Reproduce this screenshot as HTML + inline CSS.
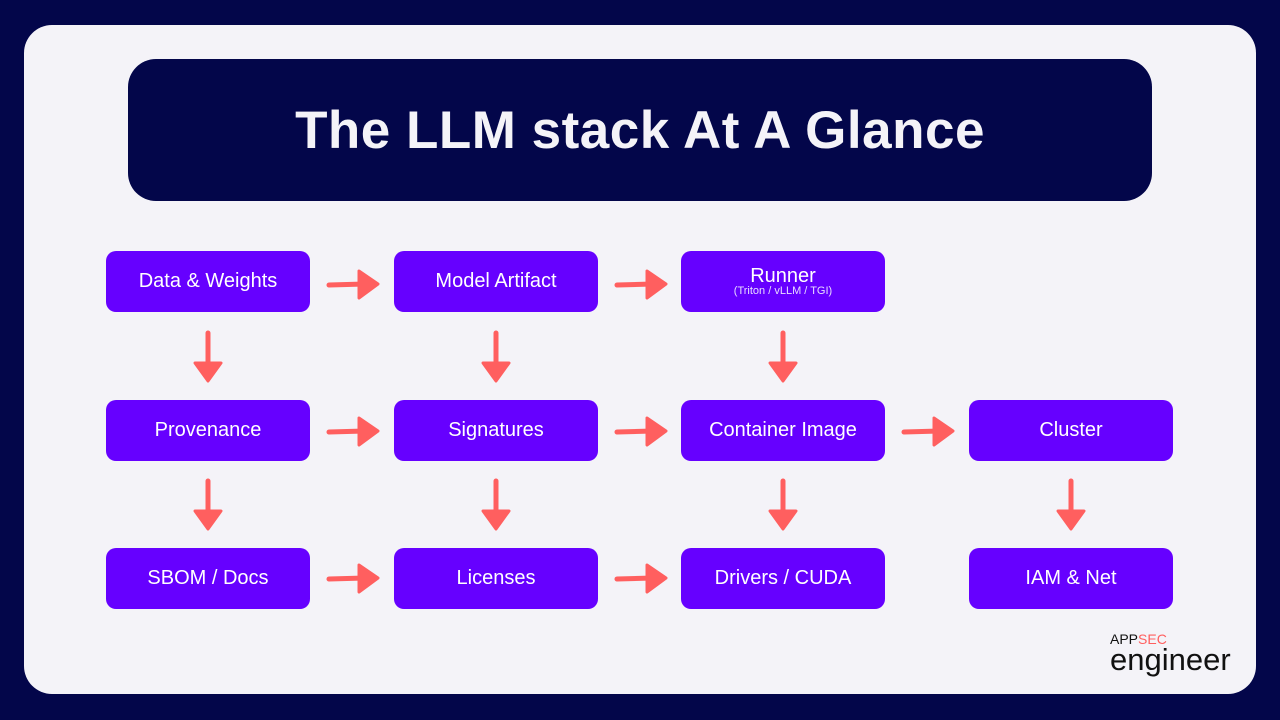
<!DOCTYPE html>
<html><head><meta charset="utf-8"><style>
body{margin:0;width:1280px;height:720px;background:#03064a;position:relative;overflow:hidden;font-family:"Liberation Sans",sans-serif}
.card{position:absolute;left:24px;top:25px;width:1232px;height:669px;background:#f4f3f8;border-radius:28px}
.title{position:absolute;left:128px;top:59px;width:1024px;height:142px;background:#03064a;border-radius:28px;color:#f4f3f8;font-weight:bold;font-size:53px;display:flex;align-items:center;justify-content:center;letter-spacing:0.5px}
.b{position:absolute;width:204px;height:61px;background:#6600ff;border-radius:10px;color:#fff;font-size:20px;display:flex;flex-direction:column;align-items:center;justify-content:center}
.b small{font-size:11px;line-height:11px;color:#e8dcff}
svg{position:absolute;left:0;top:0}
.logo{position:absolute;left:1110px;top:633px;font-size:14px;color:#111;line-height:13px}
.logo b{display:block;font-weight:normal;font-size:31px;line-height:27px;letter-spacing:0px}
</style></head><body>
<div class="card"></div>
<div class="title">The LLM stack At A Glance</div>
<div class="b" style="left:106px;top:251px">Data &amp; Weights</div>
<div class="b" style="left:394px;top:251px">Model Artifact</div>
<div class="b" style="left:681px;top:251px;line-height:20px">Runner<small>(Triton / vLLM / TGI)</small></div>
<div class="b" style="left:106px;top:400px">Provenance</div>
<div class="b" style="left:394px;top:400px">Signatures</div>
<div class="b" style="left:681px;top:400px">Container Image</div>
<div class="b" style="left:969px;top:400px">Cluster</div>
<div class="b" style="left:106px;top:548px">SBOM / Docs</div>
<div class="b" style="left:394px;top:548px">Licenses</div>
<div class="b" style="left:681px;top:548px">Drivers / CUDA</div>
<div class="b" style="left:969px;top:548px">IAM &amp; Net</div>
<svg width="1280" height="720">
<defs>
<g id="h"><path d="M0 0 L36 -1" stroke="#ff5f5f" stroke-width="5" stroke-linecap="round"/><path d="M30 -14 L49 -1 L30 13 Z" fill="#ff5f5f" stroke="#ff5f5f" stroke-width="3" stroke-linejoin="round"/></g>
<g id="v"><path d="M0 0 L0 34" stroke="#ff5f5f" stroke-width="5" stroke-linecap="round"/><path d="M-13 30 L0 48 L13 30 Z" fill="#ff5f5f" stroke="#ff5f5f" stroke-width="3" stroke-linejoin="round"/></g>
</defs>
<use href="#h" x="329" y="285"/><use href="#h" x="617" y="285"/>
<use href="#h" x="329" y="432"/><use href="#h" x="617" y="432"/><use href="#h" x="904" y="432"/>
<use href="#h" x="329" y="579"/><use href="#h" x="617" y="579"/>
<use href="#v" x="208" y="333"/><use href="#v" x="496" y="333"/><use href="#v" x="783" y="333"/>
<use href="#v" x="208" y="481"/><use href="#v" x="496" y="481"/><use href="#v" x="783" y="481"/><use href="#v" x="1071" y="481"/>
</svg>
<div class="logo">APP<span style="color:#ff5f5f">SEC</span><b>engineer</b></div>
</body></html>
